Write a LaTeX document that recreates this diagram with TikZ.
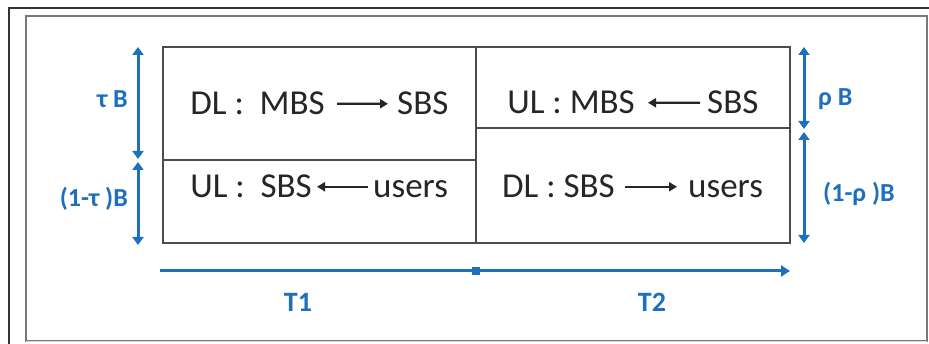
\documentclass[tikz,border=0pt]{standalone}
\usepackage{fontspec}
\setmainfont{Carlito}
\usetikzlibrary{arrows.meta}
\definecolor{myblue}{RGB}{30,112,190}
\definecolor{frameg}{RGB}{120,120,120}
\tikzset{
  cell/.style={inner sep=0pt, font=\fontsize{35}{38}\selectfont, text=black!85},
  bluelbl/.style={inner sep=0pt, font=\fontsize{26}{30}\selectfont\bfseries, text=myblue},
  tlbl/.style={inner sep=0pt, font=\fontsize{28}{32}\selectfont\bfseries, text=myblue},
  txtarrow/.style={line width=2.4pt, black!85, -{Triangle[length=8pt,width=9pt]}},
  dimarrow/.style={line width=3pt, myblue, {Triangle[length=8pt,width=11pt]}-{Triangle[length=8pt,width=11pt]}},
  timearrow/.style={line width=3pt, myblue, -{Triangle[length=9pt,width=11pt]}},
  grid/.style={line width=1.1pt, black!70},
}
\begin{document}
\begin{tikzpicture}[x=1pt,y=-1pt]
\useasboundingbox[fill=white] (0,0) rectangle (929,344);
% frames
\draw[line width=1.5pt, black!80] (9,344) -- (9,8) -- (929,8);
\draw[line width=1.2pt, frameg] (26,16) rectangle (927,341);
\draw[line width=0.6pt, black!15] (26,341) -- (927,341);
% table
\draw[grid] (163,47) rectangle (790,243);
\draw[grid] (476,47) -- (476,243);
\draw[grid] (163,160) -- (476,160);
\draw[grid] (476,128) -- (790,128);
% cell 1
\node[cell, anchor=base east] (a1) at (325,115) {DL :\ \ MBS};
\node[cell, anchor=base west] (b1) at (397,115) {SBS};
\draw[txtarrow, shorten <=12pt, shorten >=9pt] (a1.east) -- (b1.west);
% cell 2
\node[cell, anchor=base east] (a2) at (312,198) {UL :\ \ SBS};
\node[cell, anchor=base west] (b2) at (373,198) {users};
\draw[txtarrow, shorten >=5pt, shorten <=5pt] (a2.east -| b2.west) -- (a2.east);
% cell 3
\node[cell, anchor=base east] (a3) at (635,114) {UL : MBS};
\node[cell, anchor=base west] (b3) at (707,114) {SBS};
\draw[txtarrow, shorten >=13pt, shorten <=7pt] (b3.west) -- (a3.east);
% cell 4
\node[cell, anchor=base east] (a4) at (615,198) {DL : SBS};
\node[cell, anchor=base west] (b4) at (688,198) {users};
\draw[txtarrow, shorten <=10pt, shorten >=11pt] (a4.east) -- (a4.east -| b4.west);
% dimension arrows left
\coordinate (l1) at (138,47);
\coordinate (l2) at (138,159);
\coordinate (l3) at (138,162);
\coordinate (l4) at (138,245);
\draw[dimarrow] (l1) -- (l2);
\draw[dimarrow] (l3) -- (l4);
\node[bluelbl, anchor=base east] (tauB) at (128,108) {τ B};
\node[bluelbl, anchor=base east] (tauB2) at (128,207) {(1-τ )B};
% dimension arrows right
\coordinate (r1) at (804,47);
\coordinate (r2) at (804,129);
\coordinate (r3) at (804,132);
\coordinate (r4) at (804,243);
\draw[dimarrow] (r1) -- (r2);
\draw[dimarrow] (r3) -- (r4);
\node[bluelbl, anchor=base west] (rhoB) at (818,106) {ρ B};
\node[bluelbl, anchor=base west] (rhoB2) at (823,202) {(1-ρ )B};
% time axis
\coordinate (t0) at (160,271);
\coordinate (t1) at (790,271);
\draw[timearrow] (t0) -- (t1);
\node[fill=myblue, minimum size=8pt, inner sep=0pt] (mid) at (476,271) {};
\node[tlbl, anchor=base] (T1) at (298,312) {T1};
\node[tlbl, anchor=base] (T2) at (652,312) {T2};
\end{tikzpicture}
\end{document}
